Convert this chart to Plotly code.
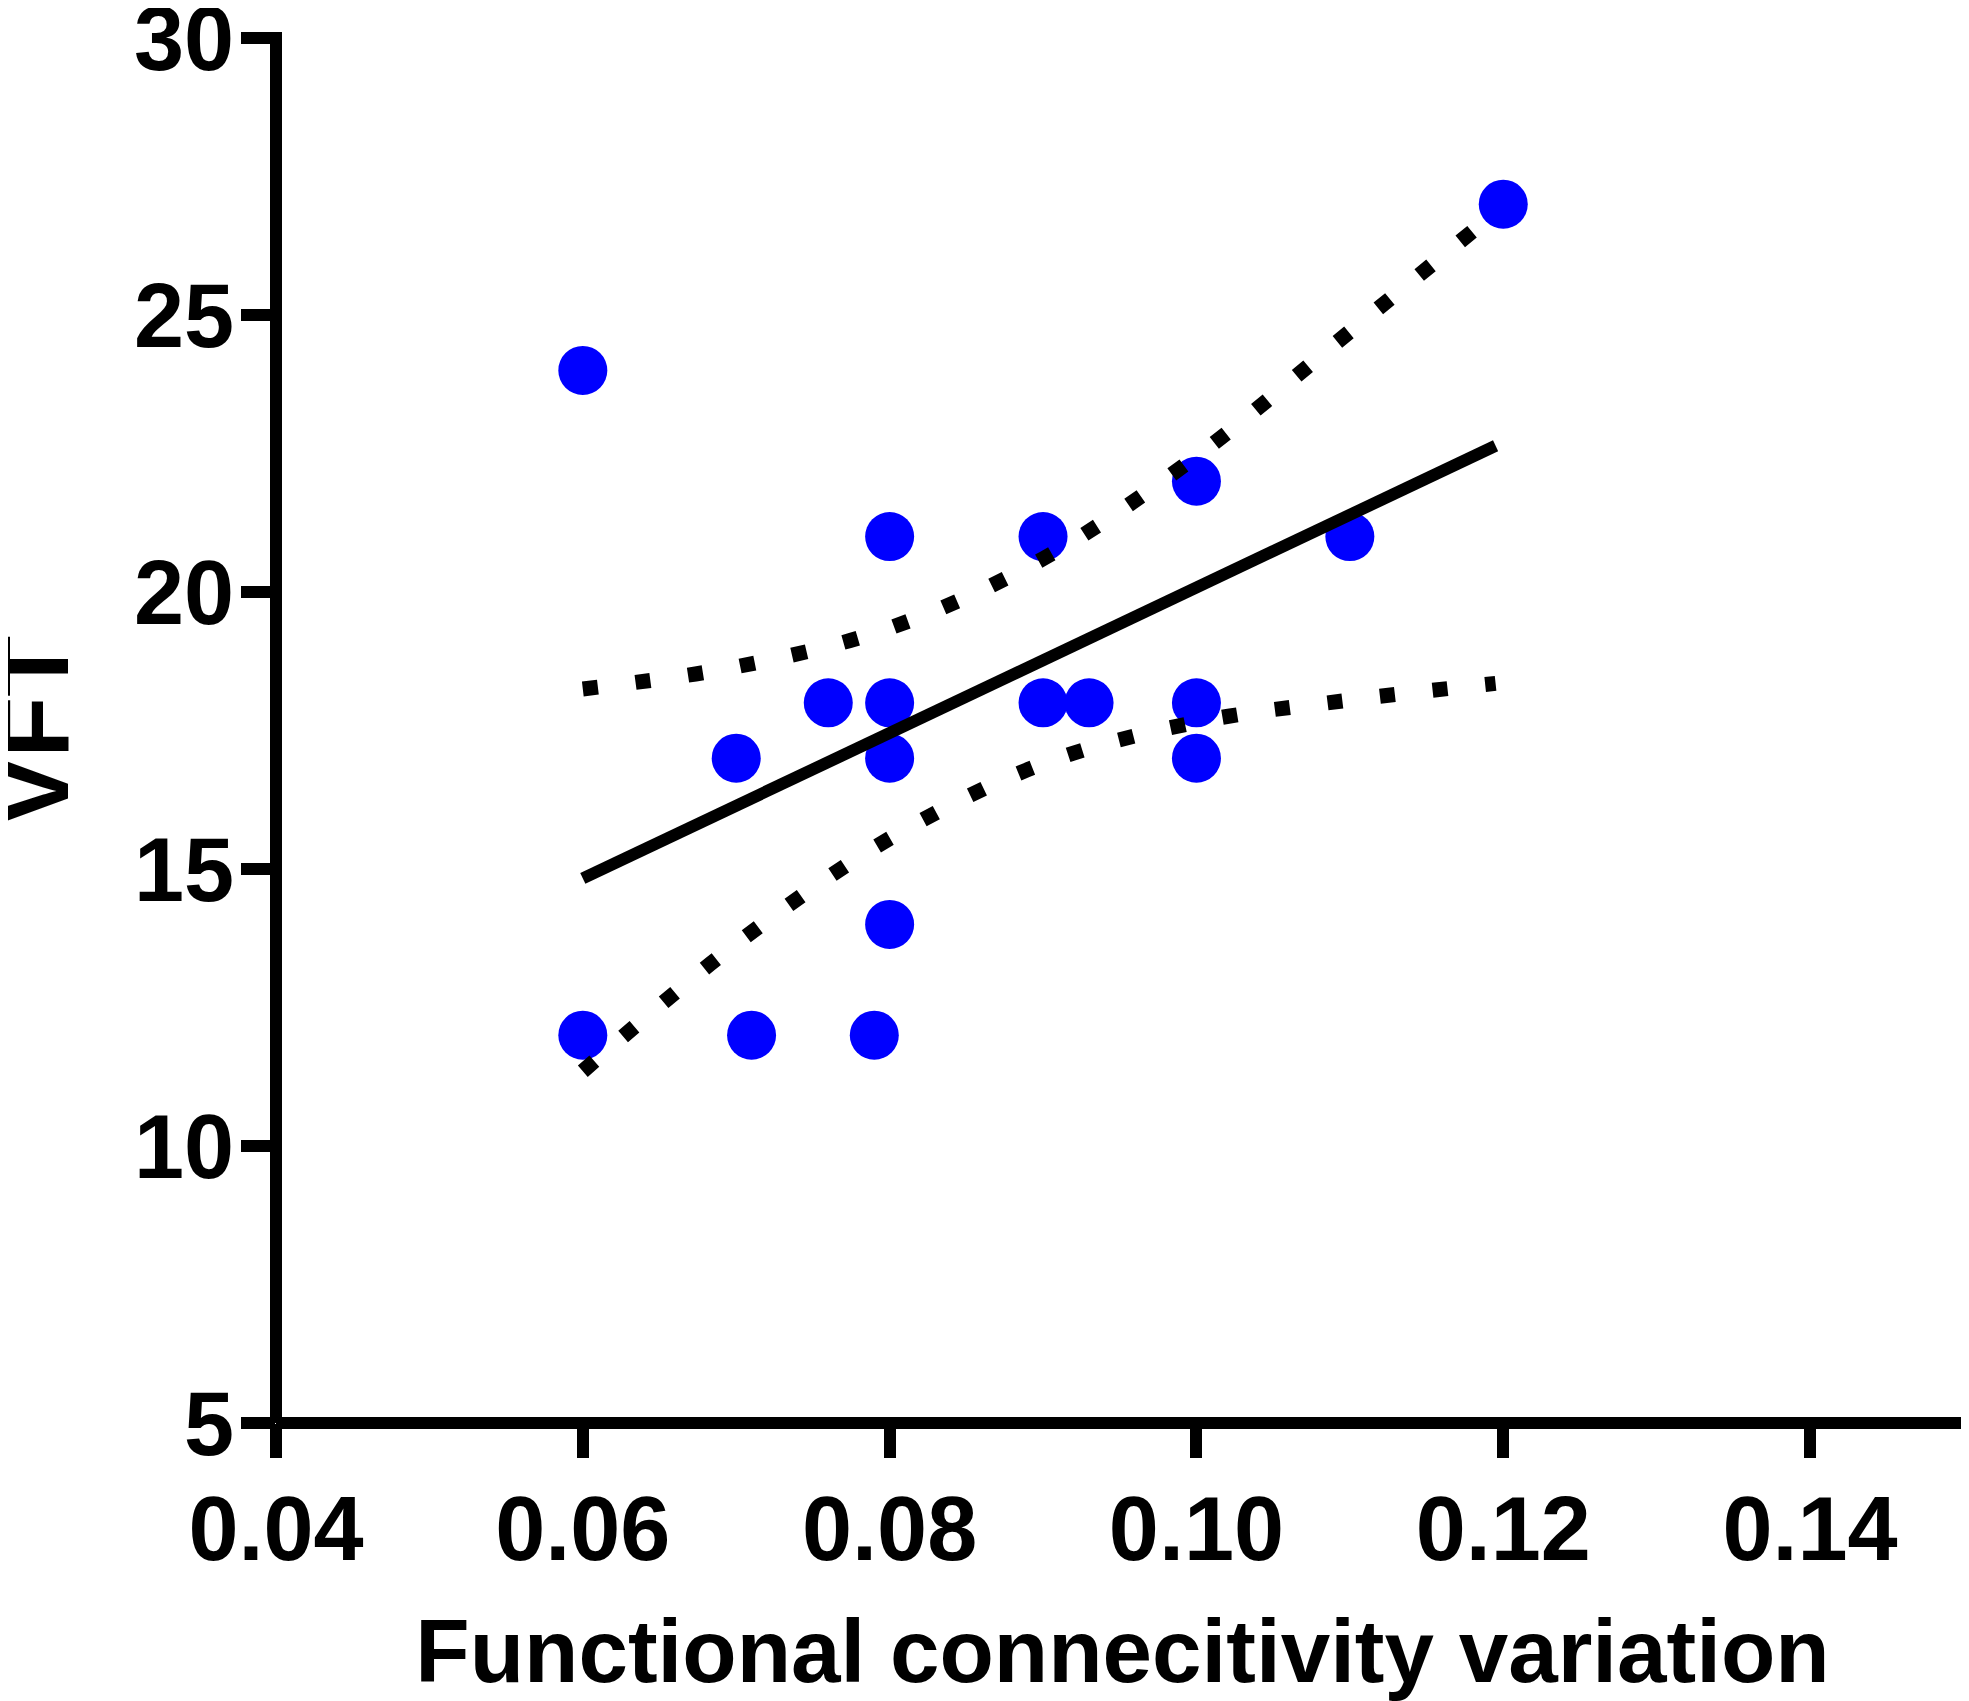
import plotly.graph_objects as go

# 散点数据 (功能连接变异 vs VFT)
fc_variation = [0.060, 0.060, 0.070, 0.071, 0.076, 0.080, 0.080, 0.080, 0.080,
                0.079, 0.090, 0.090, 0.093, 0.100, 0.100, 0.100, 0.110, 0.120]
vft = [24, 12, 17, 12, 18, 21, 18, 17, 14,
       12, 21, 18, 18, 22, 18, 17, 21, 27]

# 回归线
fit_x = [0.060, 0.1195]
fit_y = [14.83, 22.64]

# 95% 置信带
band_x = [0.060, 0.070, 0.080, 0.090, 0.100, 0.110, 0.1195]
band_upper = [18.25, 18.65, 19.35, 20.60, 22.45, 24.70, 26.85]
band_lower = [11.35, 13.65, 15.55, 16.90, 17.65, 18.05, 18.35]

x_ticks = [0.04, 0.06, 0.08, 0.10, 0.12, 0.14]
x_ticklabels = ["0.04", "0.06", "0.08", "0.10", "0.12", "0.14"]
y_ticks = [5, 10, 15, 20, 25, 30]

FONT = "Liberation Sans, Arial, Helvetica, sans-serif"
W, H = 1961, 1693          # 页面 body 默认有 8px 边距
L, R, T, B = 268, 0, 30, 278
AXIS_W = 12

fig = go.Figure()

fig.add_trace(go.Scatter(
    x=fc_variation, y=vft, mode="markers",
    marker=dict(color="#0000FF", size=49, line=dict(width=0)),
))

for band in (band_upper, band_lower):
    fig.add_trace(go.Scatter(
        x=band_x, y=band, mode="lines",
        line=dict(color="black", width=15, dash="15px,38px", shape="spline"),
    ))

fig.add_trace(go.Scatter(
    x=fit_x, y=fit_y, mode="lines",
    line=dict(color="black", width=12),
))

# 坐标轴线自己画, 使其中心与 0.04 / 5 对齐
ph = H - T - B
fig.add_shape(type="line", xref="x domain", yref="y domain",
              x0=0, x1=0, y0=0, y1=1 + (AXIS_W / 2) / ph,
              line=dict(color="black", width=AXIS_W))
fig.add_shape(type="line", xref="x domain", yref="y domain",
              x0=0, x1=1, y0=0, y1=0,
              line=dict(color="black", width=AXIS_W))

# y 轴标题贴着左边缘, 用注释放置
fig.add_annotation(
    text="VFT", textangle=-90, showarrow=False,
    xref="paper", yref="paper", x=0, y=0.5,
    xanchor="left", yanchor="middle", xshift=-L - 34,
    font=dict(family=FONT, size=100, color="black", weight="bold"),
)

fig.update_layout(
    width=W, height=H,
    margin=dict(l=L, r=R, t=T, b=B),
    paper_bgcolor="white", plot_bgcolor="white",
    showlegend=False,
    font=dict(family=FONT, color="black"),
)

fig.update_xaxes(
    range=[0.04, 0.15036], autorange=False,
    tickvals=x_ticks, ticktext=x_ticklabels,
    showgrid=False, zeroline=False, showline=False,
    ticks="outside", ticklen=34, tickwidth=12, tickcolor="black",
    tickfont=dict(family=FONT, size=90, color="black", weight="bold"),
    ticklabelstandoff=-6, ticklabeloverflow="allow",
    title=dict(text="Functional connecitivity variation", standoff=74,
               font=dict(family=FONT, size=89, color="black", weight="bold")),
    automargin=False,
)

fig.update_yaxes(
    range=[5, 30], autorange=False,
    tickvals=y_ticks,
    showgrid=False, zeroline=False, showline=False,
    ticks="outside", ticklen=34, tickwidth=12, tickcolor="black",
    tickfont=dict(family=FONT, size=90, color="black", weight="bold"),
    ticklabelstandoff=-11, ticklabeloverflow="allow",
    automargin=False,
)

fig.write_html("out.html")
